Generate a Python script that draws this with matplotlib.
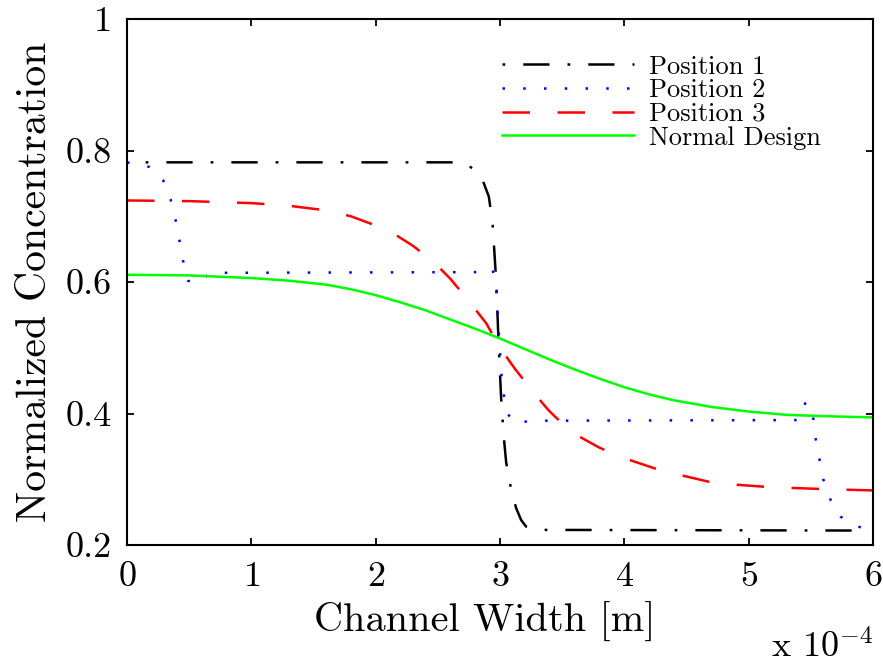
import matplotlib
matplotlib.use("Agg")
import matplotlib.pyplot as plt

plt.rcParams["font.family"] = ["cmr10", "DejaVu Serif"]
plt.rcParams["mathtext.fontset"] = "cm"
plt.rcParams["axes.unicode_minus"] = False
plt.rcParams["axes.formatter.use_mathtext"] = True

# channel width in units of 1e-4 m
x_pos1 = [0.15, 2.65, 2.73, 2.8, 2.86, 2.91, 2.94, 2.97, 2.99, 3.01, 3.03, 3.05, 3.09, 3.13, 3.17, 3.21,
          3.3, 5.85]
y_pos1 = [0.782, 0.782, 0.779, 0.770, 0.755, 0.73, 0.69, 0.60, 0.50, 0.42, 0.365, 0.325, 0.284, 0.256,
          0.238, 0.228, 0.223, 0.222]

x_pos2 = [0.0, 0.18, 0.29, 0.35, 0.39, 0.42, 0.45, 0.49, 0.57, 0.67, 0.8, 2.8, 2.94, 2.97, 2.98, 2.99,
          3.01, 3.03, 3.06, 3.12, 3.25, 5.4, 5.46, 5.52, 5.54, 5.57, 5.6, 5.66, 5.74, 5.88, 6.0]
y_pos2 = [0.782, 0.775, 0.755, 0.726, 0.695, 0.665, 0.633, 0.602, 0.598, 0.614, 0.614, 0.615, 0.62, 0.589,
          0.555, 0.525, 0.462, 0.429, 0.40, 0.385, 0.389, 0.39, 0.418, 0.392, 0.36, 0.33, 0.30, 0.268,
          0.243, 0.228, 0.222]

x_pos3 = [0.0, 0.5, 1.0, 1.3, 1.6, 1.8, 2.0, 2.15, 2.3, 2.47, 2.6, 2.75, 2.89, 3.0, 3.12, 3.27, 3.39, 3.57,
          3.8, 4.0, 4.3, 4.73, 5.17, 5.61, 6.0]
y_pos3 = [0.724, 0.723, 0.72, 0.716, 0.709, 0.700, 0.686, 0.673, 0.655, 0.630, 0.605, 0.571, 0.537, 0.50,
          0.468, 0.432, 0.405, 0.372, 0.348, 0.332, 0.313, 0.294, 0.288, 0.285, 0.283]

x_norm = [0.0, 0.5, 1.0, 1.3, 1.6, 1.8, 2.0, 2.2, 2.4, 2.6, 2.8, 3.0, 3.2, 3.4, 3.6, 3.8, 4.0, 4.2, 4.4,
          4.7, 5.0, 5.3, 5.6, 6.0]
y_norm = [0.611, 0.610, 0.606, 0.602, 0.596, 0.589, 0.580, 0.569, 0.557, 0.543, 0.529, 0.514, 0.498,
          0.482, 0.467, 0.453, 0.440, 0.429, 0.420, 0.410, 0.403, 0.398, 0.396, 0.394]

fig = plt.figure(figsize=(8.83, 6.65), dpi=100)
ax = fig.add_axes([127 / 883, 1 - 545 / 665, 746 / 883, 526 / 665])

lw = 1.8
ax.plot(x_pos1, y_pos1, color="black", lw=lw, linestyle=(0, (1.1, 7.2, 10.5, 7.2)), label="Position 1")
ax.plot(x_pos2, y_pos2, color=(0, 0, 1), lw=lw, linestyle=(0, (1, 7.3)), label="Position 2")
ax.plot(x_pos3, y_pos3, color=(1, 0, 0), lw=lw, linestyle=(0, (11, 11)), label="Position 3")
ax.plot(x_norm, y_norm, color=(0, 1, 0), lw=lw, linestyle="-", label="Normal Design")

ax.set_xlim(0, 6)
ax.set_ylim(0.2, 1)
ax.set_xticks([0, 1, 2, 3, 4, 5, 6])
ax.set_yticks([0.2, 0.4, 0.6, 0.8, 1])
ax.set_yticklabels(["0.2", "0.4", "0.6", "0.8", "1"])
ax.tick_params(direction="in", top=True, right=True, length=5, width=1.3, labelsize=26)
ax.tick_params(axis="y", pad=11)
ax.tick_params(axis="x", pad=12)
for s in ax.spines.values():
    s.set_linewidth(1.5)

ax.set_xlabel("Channel Width [m]", fontsize=29, labelpad=6)
ax.xaxis.label.set_x(0.48)
ax.set_ylabel("Normalized Concentration", fontsize=30, labelpad=8)
fig.text(873 / 883, 1 - 658 / 665, r"x 10$^{-4}$", fontsize=26, ha="right", va="baseline")

ax.legend(loc="upper left", bbox_to_anchor=(0.503, 0.932), frameon=False, fontsize=19,
          labelspacing=0, handlelength=5.0, handletextpad=0.55, borderpad=0, borderaxespad=0)

fig.savefig("out.png", dpi=100)
